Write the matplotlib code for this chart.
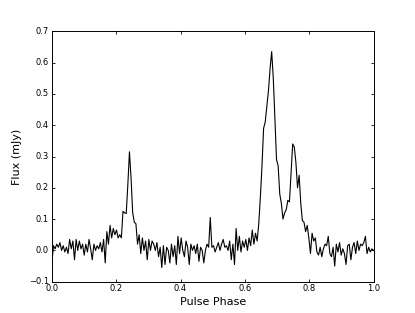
import matplotlib
matplotlib.use("Agg")
import matplotlib.pyplot as plt
import numpy as np

# pulse profile, 200 phase bins from 0 to 1
flux = [
    -0.04, 0.015, 0.005, 0.02, 0.01, 0.025, 0.0, 0.015, -0.005, 0.01,
    -0.01, 0.035, 0.005, 0.03, -0.03, 0.035, 0.0, 0.03, 0.005, 0.02,
    -0.015, 0.02, -0.005, 0.035, 0.005, -0.03, 0.02, 0.0, 0.015, 0.005,
    0.025, -0.005, 0.035, -0.04, 0.06, 0.02, 0.08, 0.04, 0.07, 0.05,
    0.065, 0.04, 0.05, 0.04, 0.125, 0.12, 0.118, 0.21, 0.315, 0.23,
    0.12, 0.09, 0.085, 0.02, 0.05, -0.01, 0.04, 0.0, 0.03, -0.03,
    0.035, 0.0, 0.03, 0.02, 0.0, 0.025, -0.02, 0.01, -0.055, 0.015,
    -0.045, 0.01, 0.0, -0.04, 0.02, -0.02, 0.015, -0.045, 0.045, -0.01,
    0.04, 0.0, -0.02, 0.03, 0.01, -0.045, 0.02, 0.0, 0.015, -0.01,
    0.02, -0.035, 0.01, 0.0, -0.04, 0.0, 0.02, 0.01, 0.105, 0.01,
    0.015, -0.005, 0.01, 0.025, 0.0, 0.02, 0.035, 0.01, 0.015, 0.0,
    0.03, -0.03, 0.02, -0.045, 0.07, 0.0, 0.045, -0.005, 0.03, 0.01,
    0.035, 0.0, 0.04, 0.015, 0.065, 0.02, 0.055, 0.03, 0.085, 0.17,
    0.27, 0.39, 0.41, 0.46, 0.51, 0.58, 0.635, 0.55, 0.42, 0.29,
    0.27, 0.18, 0.15, 0.10, 0.12, 0.13, 0.16, 0.155, 0.25, 0.34,
    0.33, 0.28, 0.20, 0.24, 0.15, 0.095, 0.09, 0.06, 0.08, 0.04,
    -0.01, 0.055, 0.03, 0.04, -0.005, -0.015, 0.01, -0.02, 0.005, 0.02,
    0.015, 0.045, -0.01, -0.02, 0.01, -0.05, 0.02, -0.005, 0.025, -0.015,
    0.005, -0.01, -0.045, 0.015, 0.02, -0.03, 0.01, 0.025, -0.01, 0.03,
    0.0, 0.02, 0.015, 0.025, 0.045, -0.01, 0.01, -0.005, 0.005, 0.0,
]
phase = np.linspace(0.0, 1.0, len(flux))

plt.style.use("classic")
fig = plt.figure(figsize=(4.15, 3.13), dpi=100)
ax = fig.add_subplot(111)
ax.plot(phase, flux, color="black", lw=0.8)
ax.set_xlim(0.0, 1.0)
ax.set_ylim(-0.1, 0.7)
ax.set_xlabel("Pulse Phase", fontsize=8, labelpad=3)
ax.set_ylabel("Flux (mJy)", fontsize=8, labelpad=5)
ax.tick_params(labelsize=6, length=2, width=0.6)
ax.tick_params(axis="x", pad=1.5)
ax.tick_params(axis="y", pad=2)
for s in ax.spines.values():
    s.set_linewidth(0.7)
fig.savefig("out.png", dpi=100)
